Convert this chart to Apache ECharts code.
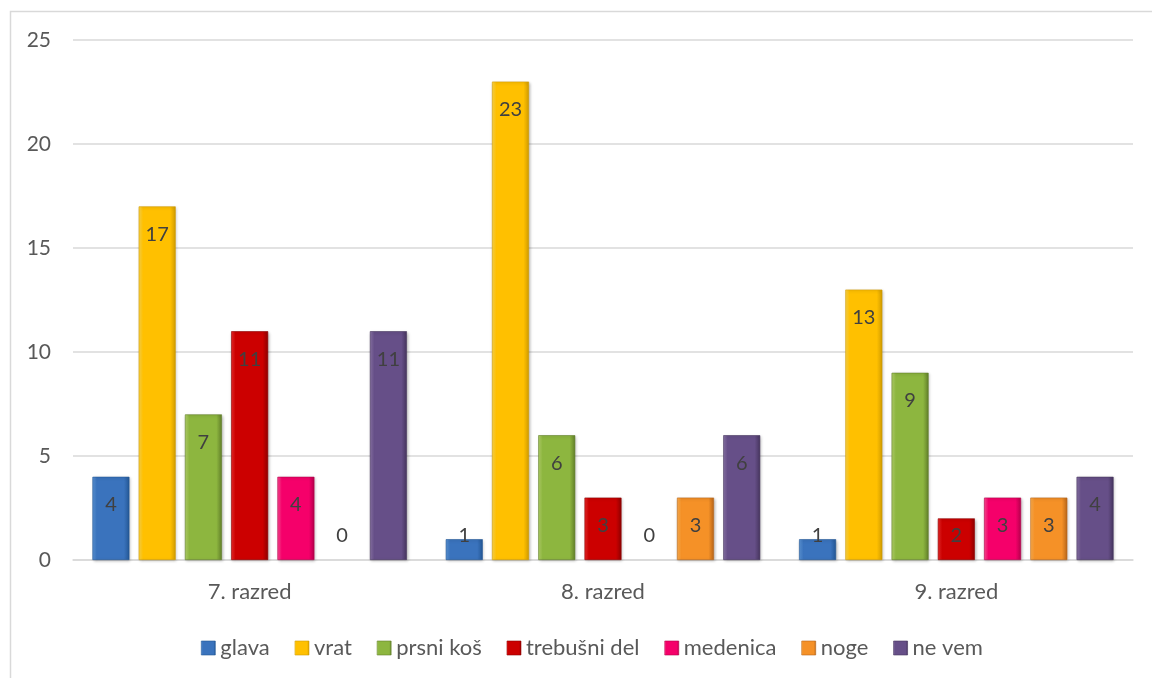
<!DOCTYPE html>
<html>
<head>
<meta charset="utf-8">
<script src="https://cdn.jsdelivr.net/npm/echarts@6/dist/echarts.min.js"></script>
<style>
  html, body { margin: 0; padding: 0; background: #fff; }
  #chart { width: 1152px; height: 678px; }
</style>
</head>
<body>
<div id="chart"></div>
<script>
// Grades shown on the category axis
const categories = ['7. razred', '8. razred', '9. razred'];

// Body-part answers, one array per series (7., 8., 9. razred)
const seriesNames = ['glava', 'vrat', 'prsni koš', 'trebušni del', 'medenica', 'noge', 'ne vem'];
const glava = [4, 1, 1];
const vrat = [17, 23, 13];
const prsniKos = [7, 6, 9];
const trebusniDel = [11, 3, 2];
const medenica = [4, 0, 3];
const noge = [0, 3, 3];
const neVem = [11, 6, 4];

const yTicks = [0, 5, 10, 15, 20, 25];

// Light / base / dark shades for the bevelled bar look
const palette = [
  ['#5b95d8', '#3a73bd', '#245896'],
  ['#ffd84a', '#ffc000', '#d19c00'],
  ['#b5d46a', '#8db63f', '#62802a'],
  ['#ec2a2a', '#cc0000', '#8f0000'],
  ['#ff4d94', '#f5006a', '#b5004c'],
  ['#ffb04f', '#f59127', '#b8661a'],
  ['#8a74a8', '#664f88', '#46355e']
];

const values = [glava, vrat, prsniKos, trebusniDel, medenica, noge, neVem];

function barFill(c) {
  return new echarts.graphic.LinearGradient(0, 0, 1, 0, [
    { offset: 0, color: c[0] },
    { offset: 0.12, color: c[1] },
    { offset: 0.85, color: c[1] },
    { offset: 1, color: c[2] }
  ]);
}

const labelFont = 'Lato, "Liberation Sans", sans-serif';

function dataItem(v) {
  if (v === 0) {
    // empty bar: only the value label remains
    return {
      value: v,
      itemStyle: { color: 'transparent', borderWidth: 0, shadowColor: 'transparent' },
      label: { position: 'insideBottom', distance: 14 }
    };
  }
  if (v < 3) {
    // short bars keep their value label just above the axis
    return { value: v, label: { position: 'insideBottom', distance: 14 } };
  }
  return v;
}

const series = seriesNames.map((name, i) => ({
  name: name,
  type: 'bar',
  barGap: '25%',
  barCategoryGap: '11%',
  itemStyle: {
    color: barFill(palette[i]),
    borderColor: palette[i][2],
    borderWidth: 0.6,
    shadowColor: 'rgba(0,0,0,0.25)',
    shadowBlur: 3,
    shadowOffsetX: 1,
    shadowOffsetY: 1
  },
  label: {
    show: true,
    position: 'insideTop',
    distance: 18,
    color: '#404040',
    fontSize: 20,
    fontFamily: labelFont
  },
  data: values[i].map(dataItem)
}));

const chart = echarts.init(document.getElementById('chart'), null, { renderer: 'canvas' });

chart.setOption({
  animation: false,
  color: palette.map(c => c[1]),
  textStyle: { fontFamily: labelFont },
  graphic: [{
    type: 'rect',
    shape: { x: 10.5, y: 11.5, width: 1300, height: 900 },
    style: { fill: 'none', stroke: '#d9d9d9', lineWidth: 1.5 },
    silent: true,
    z: -1
  }],
  grid: { left: 73, right: 19, top: 40, bottom: 118 },
  legend: {
    left: 196,
    top: 632,
    itemWidth: 14,
    itemHeight: 14,
    itemGap: 25,
    icon: 'rect',
    textStyle: { color: '#595959', fontSize: 22, fontFamily: labelFont },
    data: seriesNames.map((n, i) => ({
      name: n,
      itemStyle: { color: barFill(palette[i]), borderColor: palette[i][2], borderWidth: 0.6 }
    }))
  },
  xAxis: {
    type: 'category',
    data: categories,
    axisLine: { lineStyle: { color: '#d9d9d9', width: 1.5 } },
    axisTick: { show: false },
    axisLabel: { color: '#595959', fontSize: 22, margin: 21, fontFamily: labelFont }
  },
  yAxis: {
    type: 'value',
    min: yTicks[0],
    max: yTicks[yTicks.length - 1],
    interval: yTicks[1] - yTicks[0],
    axisLine: { show: false },
    axisTick: { show: false },
    axisLabel: { color: '#595959', fontSize: 21, margin: 22, fontFamily: labelFont },
    splitLine: { lineStyle: { color: '#d9d9d9', width: 1.5 } }
  },
  series: series
});
</script>
</body>
</html>
